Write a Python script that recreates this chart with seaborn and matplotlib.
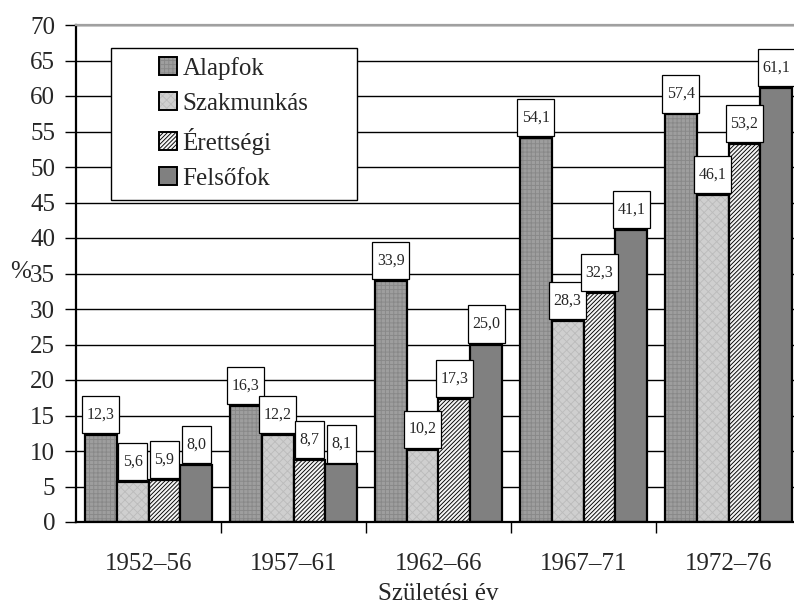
import numpy as np
import pandas as pd
import seaborn as sns
import matplotlib.pyplot as plt
import matplotlib.patches as mpatches
from matplotlib.path import Path
from matplotlib.colors import to_rgba

# data
periods = ['1952–56', '1957–61', '1962–66', '1967–71', '1972–76']
levels = ['Alapfok', 'Szakmunkás', 'Érettségi', 'Felsőfok']
alapfok = [12.3, 16.3, 33.9, 54.1, 57.4]
szakmunkas = [5.6, 12.2, 10.2, 28.3, 46.1]
erettsegi = [5.9, 8.7, 17.3, 32.3, 53.2]
felsofok = [8.0, 8.1, 25.0, 41.1, 61.1]

# face colour, hatch, hatch colour per level
styles = {
    'Alapfok': ('#9e9e9e', '++++', '#888888'),
    'Szakmunkás': ('#cfcfcf', 'xxxx', '#bcbcbc'),
    'Érettségi': ('#f4f4f4', '////////', '#000000'),
    'Felsőfok': ('#808080', '', '#808080'),
}


def set_hatch_color(p, c):
    if hasattr(p, 'set_hatchcolor'):
        p.set_hatchcolor(c)
    else:
        p._hatch_color = to_rgba(c)


def tall_box(x0, y0, width, height, mutation_size):
    # label box: small side padding, larger top/bottom padding
    px = 0.30 * mutation_size
    py = 0.66 * mutation_size
    x0, y0 = x0 - px, y0 - py
    x1, y1 = x0 + width + 2 * px, y0 + height + 2 * py
    return Path([(x0, y0), (x1, y0), (x1, y1), (x0, y1), (x0, y0)], closed=True)


df = pd.DataFrame({
    'period': periods * 4,
    'level': [l for l in levels for _ in periods],
    'value': alapfok + szakmunkas + erettsegi + felsofok,
})

sns.set_style('white')
plt.rcParams['font.family'] = ['Liberation Serif', 'DejaVu Serif']
plt.rcParams['hatch.linewidth'] = 0.65

W, H = 794, 605
fig = plt.figure(figsize=(W / 100, H / 100), dpi=100)
ax = fig.add_axes([76 / W, (H - 522) / H, 725 / W, 497 / H])

sns.barplot(data=df, x='period', y='value', hue='level', order=periods,
            hue_order=levels, width=0.88, gap=0, saturation=1,
            edgecolor='black', linewidth=1.6, legend=False, ax=ax, zorder=2)

for lev, cont in zip(levels, ax.containers):
    fc, hatch, hc = styles[lev]
    for bar in cont:
        bar.set_facecolor(fc)
        bar.set_hatch(hatch)
        set_hatch_color(bar, hc)
        v = bar.get_height()
        ax.annotate(f'{v:.1f}'.replace('.', ','),
                    (bar.get_x() + bar.get_width() / 2, v),
                    xytext=(0, 9), textcoords='offset points',
                    ha='center', va='bottom', fontsize=11.5, zorder=4,
                    bbox=dict(boxstyle=tall_box, fc='white', ec='black', lw=0.9))

ax.set_xlim(-0.5, 4.5)
ax.set_ylim(0, 70)
ax.set_yticks(np.arange(0, 71, 5))
ax.yaxis.grid(True, color='black', linewidth=1.0)
ax.set_axisbelow(True)

ax.set_xticks(np.arange(0.5, 4.6, 1), minor=True)
ax.tick_params(axis='x', which='major', length=0, pad=22, labelsize=18)
ax.tick_params(axis='x', which='minor', length=8, width=1, direction='out', color='black')
ax.tick_params(axis='y', length=8, width=1, direction='out', color='black', pad=7, labelsize=18)
ax.tick_params(left=True, bottom=True, which='both')

for s in ['left', 'bottom']:
    ax.spines[s].set_color('black')
    ax.spines[s].set_linewidth(1.6)
ax.spines['top'].set_color('#a0a0a0')
ax.spines['top'].set_linewidth(1.6)
ax.spines['right'].set_visible(False)

ax.set_xlabel('Születési év', fontsize=18, labelpad=6)
ax.set_ylabel('%', fontsize=18, rotation=0, ha='center', va='center')
ax.yaxis.set_label_coords(-0.076, 0.503)

# legend: white framed box plus frameless legend inside
ax.add_patch(mpatches.Rectangle((111 / W, (H - 200) / H), 246 / W, 152 / H,
                                transform=fig.transFigure, fc='white', ec='black',
                                lw=1.0, zorder=3, clip_on=False))
handles = [mpatches.Patch(facecolor=styles[l][0], hatch=styles[l][1],
                          edgecolor='black', linewidth=1.4, label=l) for l in levels]
for h, l in zip(handles, levels):
    set_hatch_color(h, styles[l][2])
leg = ax.legend(handles=handles, loc='upper left', frameon=False,
                bbox_to_anchor=(159 / W, (H - 57) / H), bbox_transform=fig.transFigure,
                fontsize=18, handlelength=0.72, handleheight=0.72,
                handletextpad=0.22, labelspacing=0.50, borderpad=0, borderaxespad=0)
leg.set_zorder(5)

fig.savefig('out.png', dpi=100)
